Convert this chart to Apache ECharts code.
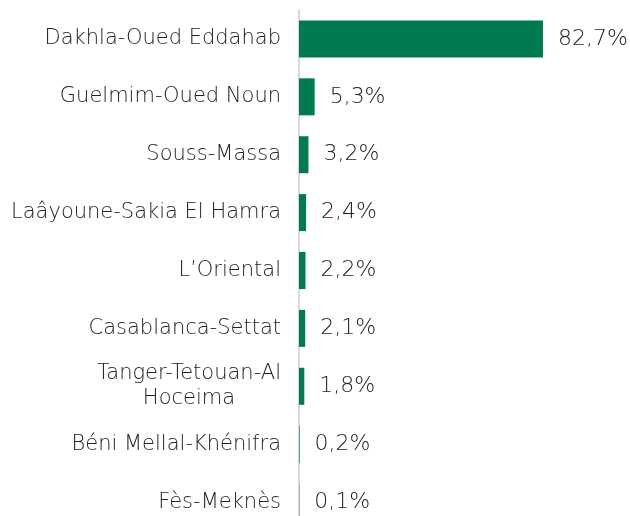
<!DOCTYPE html>
<html>
<head>
<meta charset="utf-8">
<script src="https://cdn.jsdelivr.net/npm/echarts@6/dist/echarts.min.js"></script>
<style>
  html, body { margin: 0; padding: 0; background: #fff; }
  #chart { width: 630px; height: 516px; }
</style>
</head>
<body>
<div id="chart"></div>
<script>
// ── Data ──────────────────────────────────────────────────────────────────────
const regions = [
  'Dakhla-Oued Eddahab',
  'Guelmim-Oued Noun',
  'Souss-Massa',
  'Laâyoune-Sakia El Hamra',
  'L’Oriental',
  'Casablanca-Settat',
  'Tanger-Tetouan-Al\nHoceima',
  'Béni Mellal-Khénifra',
  'Fès-Meknès',
];
const shares = [82.7, 5.3, 3.2, 2.4, 2.2, 2.1, 1.8, 0.2, 0.1];

const FONT = '"DejaVu Sans", sans-serif';
const TEXT = '#222222';
const GREEN = '#017a4f';

const chart = echarts.init(document.getElementById('chart'), null, { renderer: 'canvas' });

chart.setOption({
  animation: false,
  backgroundColor: '#fff',
  // v6 grids shrink to keep labels inside the canvas unless told not to
  grid: { left: 299, right: 36, top: 10, height: 521, outerBoundsMode: 'none' },
  xAxis: {
    type: 'value',
    min: 0,
    max: 100,
    show: false,
  },
  yAxis: {
    type: 'category',
    data: regions,
    inverse: true,
    axisTick: { show: false },
    axisLine: { show: true, lineStyle: { color: '#d9d9d9', width: 2 } },
    axisLabel: {
      margin: 18,
      fontFamily: FONT,
      fontSize: 21,
      fontWeight: 200,
      color: TEXT,
      // two-line label: centre each line under the other
      formatter: v => v.split('\n').map(s => '{c|' + s + '}').join('\n'),
      rich: {
        c: { align: 'center', fontFamily: FONT, fontSize: 21, fontWeight: 200, color: TEXT, lineHeight: 25 },
      },
    },
  },
  series: [{
    type: 'bar',
    data: shares,
    barWidth: 37,
    itemStyle: { color: GREEN },
    label: {
      show: true,
      position: 'right',
      distance: 15,
      fontFamily: FONT,
      fontSize: 22,
      fontWeight: 200,
      color: TEXT,
      formatter: p => p.value.toFixed(1).replace('.', ',') + '%',
    },
  }],
});
</script>
</body>
</html>
